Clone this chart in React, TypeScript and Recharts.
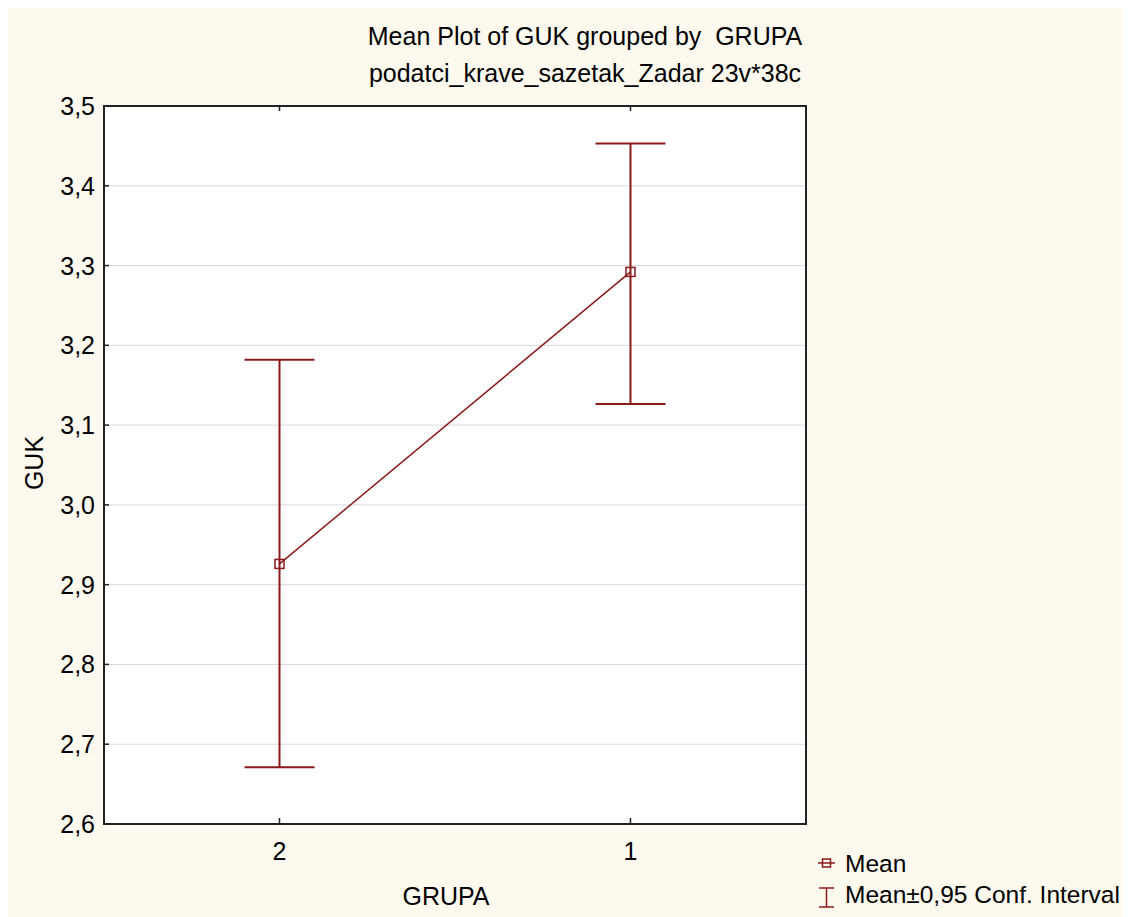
import React from 'react';
import {
  LineChart,
  Line,
  XAxis,
  YAxis,
  CartesianGrid,
  ErrorBar,
  ReferenceArea
} from 'recharts';

// GUK means per GRUPA with 95% confidence limits
const groups = ['2', '1'];
const means = [2.926, 3.292];
const ciLow = [2.671, 3.1265];
const ciHigh = [3.182, 3.453];
const yTicks = [2.6, 2.7, 2.8, 2.9, 3.0, 3.1, 3.2, 3.3, 3.4, 3.5];
const xDomain: [number, number] = [0.5, 2.5];
const yDomain: [number, number] = [2.6, 3.5];

const RED = '#8b1a1a';
const AXIS = '#222';
const FONT = '"Liberation Sans", Arial, sans-serif';

const data = groups.map((g, i) => ({
  pos: i + 1,
  grupa: g,
  mean: means[i],
  err: [means[i] - ciLow[i], ciHigh[i] - means[i]]
}));

const fmtY = (v: number) => v.toFixed(1).replace('.', ',');
const fmtX = (v: number) => groups[v - 1] ?? '';

const LeftTick = (props: any) => {
  const { x, y, payload } = props;
  return (
    <g>
      <line x1={x + 9} x2={x + 14} y1={y} y2={y} stroke={AXIS} strokeWidth={1.5} />
      <text x={x} y={y} textAnchor="end" dominantBaseline="central" fontSize={25} fontFamily={FONT} fill="#000" stroke="none">
        {fmtY(payload.value)}
      </text>
    </g>
  );
};

const BottomTick = (props: any) => {
  const { x, y, payload } = props;
  return (
    <g>
      <line x1={x} x2={x} y1={y - 19} y2={y - 24} stroke={AXIS} strokeWidth={1.5} />
      <text x={x} y={y} dy="0.71em" textAnchor="middle" fontSize={25} fontFamily={FONT} fill="#000" stroke="none">
        {fmtX(payload.value)}
      </text>
    </g>
  );
};

const TopTick = (props: any) => {
  const { x, y } = props;
  return <line x1={x} x2={x} y1={y} y2={y + 5} stroke={AXIS} strokeWidth={1.5} />;
};

const RightTick = (props: any) => {
  const { x, y } = props;
  return <line x1={x} x2={x - 5} y1={y} y2={y} stroke={AXIS} strokeWidth={1.5} />;
};

const MeanDot = (props: any) => {
  const { cx, cy, index } = props;
  if (cx == null || cy == null) return <g key={index} />;
  return (
    <rect key={index} x={cx - 4.5} y={cy - 4.5} width={9} height={9} fill="none" stroke={RED} strokeWidth={1.5} />
  );
};

const axisLine = { stroke: AXIS, strokeWidth: 2 };

export default function App() {
  const W = 1115;
  const H = 912;
  return (
    <div style={{ position: 'relative', width: W, height: H, marginTop: -3, background: '#fdf9ef' }}>
      <LineChart width={W} height={H} data={data} margin={{ top: 100, right: 316, bottom: 92, left: 0 }}>
        <CartesianGrid horizontal vertical={false} stroke="#dadada" fill="#fff" xAxisId="bottom" yAxisId="left" />
        <XAxis
          xAxisId="bottom"
          dataKey="pos"
          type="number"
          domain={xDomain}
          ticks={[1, 2]}
          height={1}
          tickSize={0}
          tickMargin={18}
          axisLine={axisLine}
          tickLine={false}
          tick={<BottomTick />}
        />
        <XAxis
          xAxisId="top"
          orientation="top"
          dataKey="pos"
          type="number"
          domain={xDomain}
          ticks={[1, 2]}
          height={1}
          tickSize={0}
          tickMargin={0}
          axisLine={axisLine}
          tickLine={false}
          tick={<TopTick />}
        />
        <YAxis
          yAxisId="left"
          type="number"
          domain={yDomain}
          ticks={yTicks}
          width={96}
          tickSize={0}
          tickMargin={9}
          axisLine={axisLine}
          tickLine={false}
          tick={<LeftTick />}
        />
        <YAxis
          yAxisId="right"
          orientation="right"
          type="number"
          domain={yDomain}
          ticks={yTicks}
          width={1}
          tickSize={0}
          tickMargin={0}
          axisLine={axisLine}
          tickLine={false}
          tick={<RightTick />}
        />
        {/* plot frame */}
        <ReferenceArea
          xAxisId="bottom"
          yAxisId="left"
          x1={xDomain[0]}
          x2={xDomain[1]}
          y1={yDomain[0]}
          y2={yDomain[1]}
          fill="none"
          fillOpacity={0}
          stroke={AXIS}
          strokeWidth={2}
          ifOverflow="visible"
        />
        <Line
          xAxisId="bottom"
          yAxisId="left"
          dataKey="mean"
          type="linear"
          stroke={RED}
          strokeWidth={1.5}
          dot={MeanDot}
          activeDot={false}
          isAnimationActive={false}
        >
          <ErrorBar dataKey="err" direction="y" width={35} stroke={RED} strokeWidth={2} isAnimationActive={false} />
        </Line>
      </LineChart>
      <svg
        width={W}
        height={H}
        style={{ position: 'absolute', left: 0, top: 0, pointerEvents: 'none', whiteSpace: 'pre' }}
        fontFamily={FONT}
        fontSize={25}
      >
        <text x={577} y={40} textAnchor="middle" fill="#000" xmlSpace="preserve">Mean Plot of GUK grouped by  GRUPA</text>
        <text x={577} y={77} textAnchor="middle" fill="#000">podatci_krave_sazetak_Zadar 23v*38c</text>
        <text x={26} y={458} textAnchor="middle" dominantBaseline="central" transform="rotate(-90 26 458)" fill="#000">
          GUK
        </text>
        <text x={438} y={900} textAnchor="middle" fill="#000">GRUPA</text>
        {/* legend */}
        <line x1={810} x2={827} y1={858} y2={858} stroke={RED} strokeWidth={1.5} />
        <rect x={814.5} y={854} width={8} height={8} fill="none" stroke={RED} strokeWidth={1.5} />
        <text x={837} y={867} fill="#000" fontSize={24.5}>Mean</text>
        <line x1={818.5} x2={818.5} y1={883} y2={902} stroke={RED} strokeWidth={1.5} />
        <line x1={811} x2={826} y1={883} y2={883} stroke={RED} strokeWidth={1.5} />
        <line x1={811} x2={826} y1={902} y2={902} stroke={RED} strokeWidth={1.5} />
        <text x={837} y={898} fill="#000" fontSize={24.5}>Mean±0,95 Conf. Interval</text>
      </svg>
    </div>
  );
}
